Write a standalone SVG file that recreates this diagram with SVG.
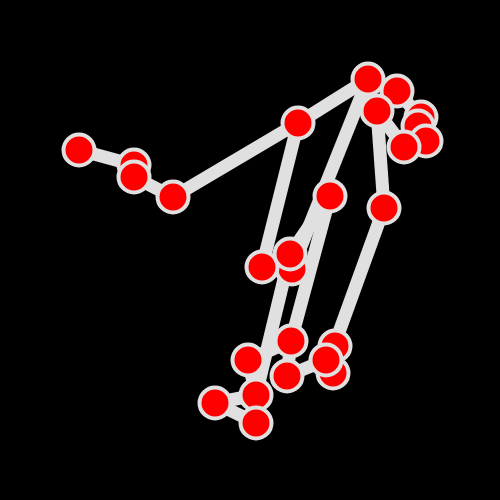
<svg xmlns="http://www.w3.org/2000/svg" width="500" height="500" viewBox="0 0 500 500">
<style>
.e{stroke:#e0e0e0;stroke-width:13;stroke-linecap:butt;fill:none}
.n{fill:#ff0000;stroke:#e0e0e0;stroke-width:4}
</style>
<rect width="500" height="500" fill="#000"/>
<g id="connectors">
<line class="e" x1="79" y1="150" x2="134" y2="165"/>
<line class="e" x1="134" y1="177" x2="173" y2="197"/>
<line class="e" x1="173" y1="197" x2="298" y2="123"/>
<line class="e" x1="298" y1="123" x2="368" y2="79"/>
<line class="e" x1="298" y1="123" x2="262" y2="267"/>
<line class="e" x1="368" y1="79" x2="292" y2="269"/>
<line class="e" x1="330" y1="196" x2="291" y2="341"/>
<line class="e" x1="330" y1="196" x2="290" y2="254"/>
<line class="e" x1="290" y1="254" x2="256" y2="395"/>
<line class="e" x1="377" y1="111" x2="384" y2="208"/>
<line class="e" x1="384" y1="208" x2="334" y2="346"/>
<line class="e" x1="291" y1="341" x2="287" y2="376"/>
<line class="e" x1="248" y1="360" x2="291" y2="341"/>
<line class="e" x1="287" y1="376" x2="326" y2="360"/>
<line class="e" x1="248" y1="360" x2="256" y2="395"/>
<line class="e" x1="215" y1="403" x2="256" y2="395"/>
<line class="e" x1="215" y1="403" x2="256" y2="423"/>
<line class="e" x1="256" y1="395" x2="256" y2="423"/>
<line class="e" x1="368" y1="79" x2="397" y2="91"/>
<line class="e" x1="397" y1="91" x2="377" y2="111"/>
<line class="e" x1="377" y1="111" x2="404" y2="147"/>
<line class="e" x1="397" y1="91" x2="420" y2="117"/>
</g>
<g id="n-hidden">
<circle class="n" cx="134" cy="165" r="15.5"/>
<circle class="n" cx="292" cy="269" r="15.5"/>
<circle class="n" cx="335" cy="346" r="15.5"/>
<circle class="n" cx="333" cy="373" r="15.5"/>
<circle class="n" cx="421" cy="117" r="15.5"/>
<circle class="n" cx="418" cy="126" r="15.5"/>
<circle class="n" cx="426" cy="141" r="15.5"/>
</g>
<g id="n1"><circle class="n" cx="79" cy="150" r="15.5"/></g>
<g id="n2"><circle class="n" cx="134" cy="177" r="15.5"/></g>
<g id="n3"><circle class="n" cx="173" cy="197" r="15.5"/></g>
<g id="n4"><circle class="n" cx="298" cy="123" r="15.5"/></g>
<g id="n5"><circle class="n" cx="368" cy="79" r="15.5"/></g>
<g id="n6"><circle class="n" cx="397" cy="91" r="15.5"/></g>
<g id="n7"><circle class="n" cx="377" cy="111" r="15.5"/></g>
<g id="n8"><circle class="n" cx="404" cy="147" r="15.5"/></g>
<g id="n9"><circle class="n" cx="330" cy="196" r="15.5"/></g>
<g id="n10"><circle class="n" cx="384" cy="208" r="15.5"/></g>
<g id="n11"><circle class="n" cx="262" cy="267" r="15.5"/></g>
<g id="n12"><circle class="n" cx="290" cy="254" r="15.5"/></g>
<g id="n13"><circle class="n" cx="291" cy="341" r="15.5"/></g>
<g id="n14"><circle class="n" cx="248" cy="360" r="15.5"/></g>
<g id="n15"><circle class="n" cx="326" cy="360" r="15.5"/></g>
<g id="n16"><circle class="n" cx="287" cy="376" r="15.5"/></g>
<g id="n17"><circle class="n" cx="215" cy="403" r="15.5"/></g>
<g id="n18"><circle class="n" cx="256" cy="395" r="15.5"/></g>
<g id="n19"><circle class="n" cx="256" cy="423" r="15.5"/></g>
</svg>
